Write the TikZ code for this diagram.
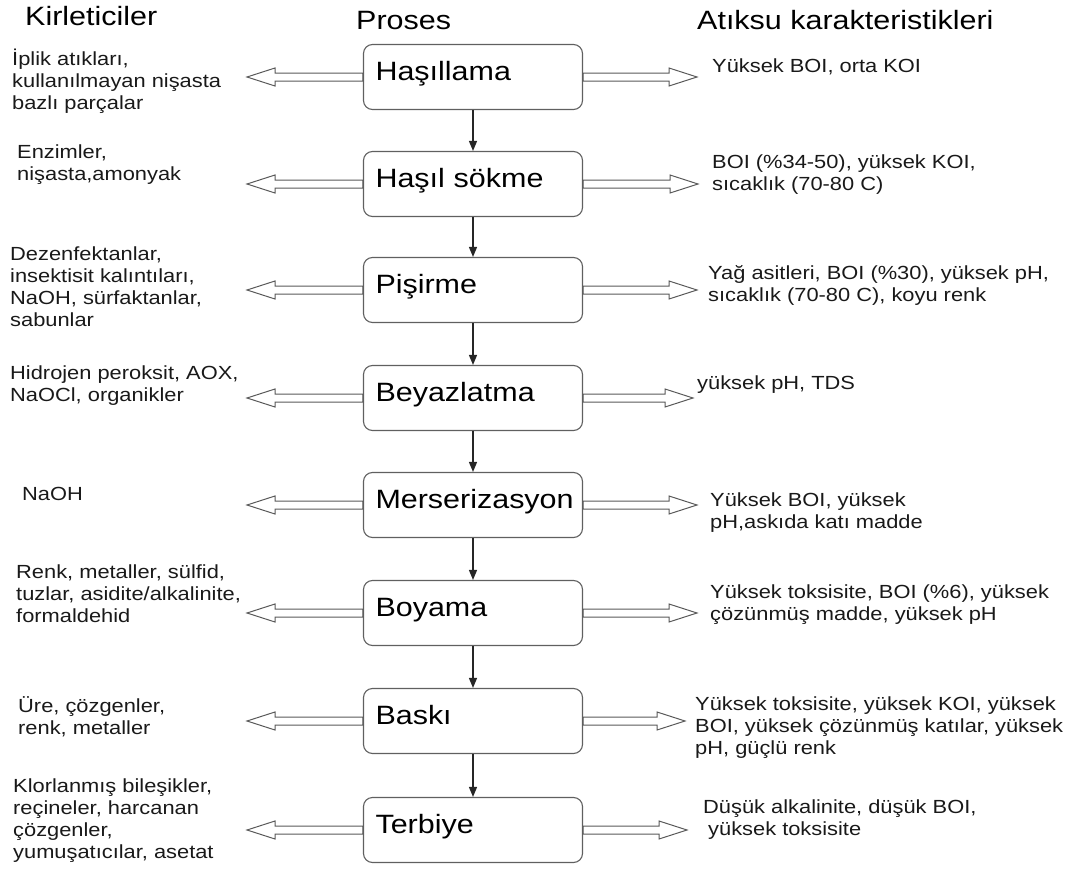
\documentclass[tikz,border=0pt]{standalone}
\usepackage{fontspec}
\setmainfont{Liberation Sans}[FakeStretch=1.15]
\usetikzlibrary{arrows.meta}

\begin{document}
\begin{tikzpicture}[x=1pt,y=-1pt,
  box/.style={draw=gray!75!black,line width=1.1pt,rounded corners=9pt,minimum height=65pt,
    text width=195pt,inner xsep=12pt,align=left,text height=19pt,text depth=12pt,
    font=\fontsize{26.5}{30}\selectfont},
  hd/.style={anchor=west,inner sep=0pt,font=\fontsize{26.5}{30}\selectfont},
  txt/.style={anchor=west,inner sep=0pt,align=left,text=black!90,font=\fontsize{19}{22}\selectfont},
  flow/.style={-{Triangle[length=10pt,width=8pt]},line width=1.3pt,draw=black!85},
  outl/.style={draw=gray!70!black,line width=1pt,to path={([yshift=4pt]\tikztostart)
    -- ([xshift=28pt,yshift=4pt]\tikztotarget) -- ([xshift=28pt,yshift=9pt]\tikztotarget)
    -- (\tikztotarget) -- ([xshift=28pt,yshift=-9pt]\tikztotarget)
    -- ([xshift=28pt,yshift=-4pt]\tikztotarget) -- ([yshift=-4pt]\tikztostart) -- cycle}},
  outr/.style={draw=gray!70!black,line width=1pt,to path={([yshift=4pt]\tikztostart)
    -- ([xshift=-28pt,yshift=4pt]\tikztotarget) -- ([xshift=-28pt,yshift=9pt]\tikztotarget)
    -- (\tikztotarget) -- ([xshift=-28pt,yshift=-9pt]\tikztotarget)
    -- ([xshift=-28pt,yshift=-4pt]\tikztotarget) -- ([yshift=-4pt]\tikztostart) -- cycle}}]
  \useasboundingbox (0,0) rectangle (1072,870);

  % column heads
  \node[hd] (hk) at (25,16) {Kirleticiler};
  \node[hd] (hp) at (356,21) {Proses};
  \node[hd] (ha) at (697,20) {Atıksu karakteristikleri};

  % process steps
  \node[box] (b1) at (473,77) {Haşıllama};
  \node[box] (b2) at (473,184) {Haşıl sökme};
  \node[box] (b3) at (473,290) {Pişirme};
  \node[box] (b4) at (473,398) {Beyazlatma};
  \node[box] (b5) at (473,505) {Merserizasyon};
  \node[box] (b6) at (473,613) {Boyama};
  \node[box] (b7) at (473,721) {Baskı};
  \node[box] (b8) at (473,830) {Terbiye};

  \draw[flow] (b1) -- (b2);
  \draw[flow] (b2) -- (b3);
  \draw[flow] (b3) -- (b4);
  \draw[flow] (b4) -- (b5);
  \draw[flow] (b5) -- (b6);
  \draw[flow] (b6) -- (b7);
  \draw[flow] (b7) -- (b8);

  % arrow tips
  \coordinate (l1) at (247,77);  \coordinate (r1) at (697,77);
  \coordinate (l2) at (247,184); \coordinate (r2) at (698,184);
  \coordinate (l3) at (247,290); \coordinate (r3) at (697,290);
  \coordinate (l4) at (247,398); \coordinate (r4) at (693,398);
  \coordinate (l5) at (247,505); \coordinate (r5) at (697,505);
  \coordinate (l6) at (247,613); \coordinate (r6) at (697,613);
  \coordinate (l7) at (247,721); \coordinate (r7) at (685,721);
  \coordinate (l8) at (247,830); \coordinate (r8) at (687,830);

  \draw[outl] (b1.west) to (l1); \draw[outr] (b1.east) to (r1);
  \draw[outl] (b2.west) to (l2); \draw[outr] (b2.east) to (r2);
  \draw[outl] (b3.west) to (l3); \draw[outr] (b3.east) to (r3);
  \draw[outl] (b4.west) to (l4); \draw[outr] (b4.east) to (r4);
  \draw[outl] (b5.west) to (l5); \draw[outr] (b5.east) to (r5);
  \draw[outl] (b6.west) to (l6); \draw[outr] (b6.east) to (r6);
  \draw[outl] (b7.west) to (l7); \draw[outr] (b7.east) to (r7);
  \draw[outl] (b8.west) to (l8); \draw[outr] (b8.east) to (r8);

  % pollutants
  \node[txt] (k1) at (12,81) {İplik atıkları,\\kullanılmayan nişasta\\bazlı parçalar};
  \node[txt] (k2) at (17,165) {Enzimler,\\nişasta,amonyak};
  \node[txt] (k3) at (10,287) {Dezenfektanlar,\\insektisit kalıntıları,\\NaOH, sürfaktanlar,\\sabunlar};
  \node[txt] (k4) at (10,386) {Hidrojen peroksit, AOX,\\NaOCl, organikler};
  \node[txt] (k5) at (22,494) {NaOH};
  \node[txt] (k6) at (16,594) {Renk, metaller, sülfid,\\tuzlar, asidite/alkalinite,\\formaldehid};
  \node[txt] (k7) at (18,717) {Üre, çözgenler,\\renk, metaller};
  \node[txt] (k8) at (13,821) {Klorlanmış bileşikler,\\reçineler, harcanan\\çözgenler,\\yumuşatıcılar, asetat};

  % wastewater
  \node[txt] (a1) at (712,67) {Yüksek BOI, orta KOI};
  \node[txt] (a2) at (712,175) {BOI (\%34-50), yüksek KOI,\\sıcaklık (70-80 C)};
  \node[txt] (a3) at (708,285) {Yağ asitleri, BOI (\%30), yüksek pH,\\sıcaklık (70-80 C), koyu renk};
  \node[txt] (a4) at (697,385) {yüksek pH, TDS};
  \node[txt] (a5) at (710,513) {Yüksek BOI, yüksek\\pH,askıda katı madde};
  \node[txt] (a6) at (710,605) {Yüksek toksisite, BOI (\%6), yüksek\\çözünmüş madde, yüksek pH};
  \node[txt] (a7) at (695,728) {Yüksek toksisite, yüksek KOI, yüksek\\BOI, yüksek çözünmüş katılar, yüksek\\pH, güçlü renk};
  \node[txt] (a8) at (703,820) {Düşük alkalinite, düşük BOI,\\\hspace*{5pt}yüksek toksisite};
\end{tikzpicture}
\end{document}
